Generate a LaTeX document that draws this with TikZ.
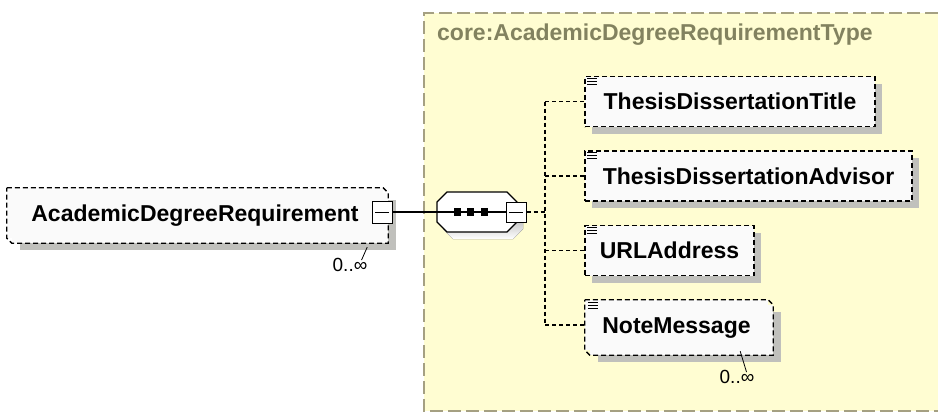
\documentclass[tikz,border=0pt]{standalone}
\usepackage{fontspec}
\setmainfont{Liberation Sans}
\usetikzlibrary{shadows}

\definecolor{typebg}{RGB}{255,253,210}
\definecolor{typeline}{RGB}{165,160,130}
\definecolor{typetext}{RGB}{130,130,95}
\definecolor{boxfill}{RGB}{250,250,250}
\definecolor{shade}{RGB}{192,192,188}

\tikzset{
  boxline/.style={line width=1.3pt, dash pattern=on 5pt off 3pt},
  elem/.style={draw, boxline, fill=boxfill,
    minimum height=50pt, inner sep=0pt, text height=16pt, text depth=0pt,
    font=\fontsize{23}{27}\selectfont\bfseries,
    general shadow={fill=shade, shadow xshift=7pt, shadow yshift=-7pt}},
  elemmany/.style={fill=boxfill,
    minimum height=50pt, inner sep=0pt, text height=16pt, text depth=0pt,
    font=\fontsize{23}{27}\selectfont\bfseries,
    general shadow={fill=shade, shadow xshift=13pt, shadow yshift=-12pt},
    general shadow={fill=boxfill, shadow xshift=5pt, shadow yshift=-5pt}},
  collapse/.style={draw, solid, line width=1pt, fill=white, minimum width=20pt,
    minimum height=20pt, inner sep=0pt,
    path picture={\draw[line width=1pt] ([xshift=3pt]path picture bounding box.west)
      -- ([xshift=-3pt]path picture bounding box.east);}},
  link/.style={line width=1.3pt, dash pattern=on 4pt off 3pt},
  mult/.style={font=\fontsize{19}{22}\selectfont, inner sep=0pt},
  typetitle/.style={font=\fontsize{23}{27}\selectfont\bfseries, text=typetext, inner sep=0pt},
  seqdot/.style={fill=black, minimum width=7pt, minimum height=8pt, inner sep=0pt}
}

\begin{document}
\begin{tikzpicture}[x=1pt, y=-1pt]
\useasboundingbox (0,0) rectangle (938,413);

% complex type area
\fill[typebg] (424,13) rectangle (938,411);
\draw[typeline, line width=2pt, dash pattern=on 13pt off 5pt] (938,13) -- (424,13) -- (424,411) -- (938,411);
\node[typetitle, anchor=base west] (typename) at (437,40) {core:AcademicDegreeRequirementType};

% root element
\node[elemmany, minimum width=376pt] (adr) at (195,213) {AcademicDegreeRequirement};
\node[mult] (adrmult) at (350,265) {0..∞};
\draw[line width=0.8pt] ([xshift=-16pt,yshift=-9pt]adr.south east) -- ([xshift=-6pt,yshift=-2pt]adrmult.north east);

% sequence compositor
\fill[shade] (453,199) -- (513,199) -- (523,209) -- (523,229) -- (513,239) -- (453,239) -- (443,229) -- (443,209) -- cycle;
\draw[line width=1.3pt, fill=white] (447,192) -- (507,192) -- (517,202) -- (517,222) -- (507,232) -- (447,232) -- (437,222) -- (437,202) -- cycle;
\node[inner sep=0pt, minimum width=80pt, minimum height=40pt] (seq) at (477,212) {};

% child elements
\node[elem, minimum width=290pt] (title) at (730,101.5) {ThesisDissertationTitle};
\node[elem, minimum width=327pt] (advisor) at (748.5,176) {ThesisDissertationAdvisor};
\node[elem, minimum width=169pt] (url) at (669.5,250.5) {URLAddress};
\node[elemmany, minimum width=183pt] (note) at (676.5,325) {NoteMessage};
\node[mult] (notemult) at (737,377) {0..∞};
\draw[line width=0.8pt] ([xshift=-28pt,yshift=-1pt]note.south east) -- ([xshift=-8pt,yshift=-2pt]notemult.north east);

% outline of the repeated elements
\foreach \n in {adr,note}
  \draw[boxline] (\n.north west) -- (\n.north east) -- ([xshift=5pt,yshift=-5pt]\n.north east)
    -- ([xshift=5pt,yshift=-5pt]\n.south east) -- ([xshift=5pt,yshift=-5pt]\n.south west)
    -- (\n.south west) -- cycle;

% collapse buttons and sequence line
\node[collapse, minimum height=22pt] (adrcol) at (382,212) {};
\node[collapse] (seqcol) at (516,212) {};
\draw[line width=1.3pt] (adrcol.east) -- (seqcol.west);
\foreach \x [count=\i] in {457.5,470.5,484}
  \node[seqdot] (seqdot\i) at (\x,212) {};

% simple content icons
\foreach \b in {title,advisor,url,note}
  \foreach \k in {2.5,5.5,8.5}
    \draw[line width=1pt] ([xshift=3pt,yshift=-\k pt]\b.north west) -- ++(10,0);

% connectors
\coordinate (fork) at (545,212);
\draw[link] (seqcol.east) -- (fork);
\draw[link] (fork |- title.west) -- (fork |- note.west);
\foreach \b in {title,advisor,url,note}
  \draw[link] (fork |- \b.west) -- (\b.west);

\end{tikzpicture}
\end{document}
